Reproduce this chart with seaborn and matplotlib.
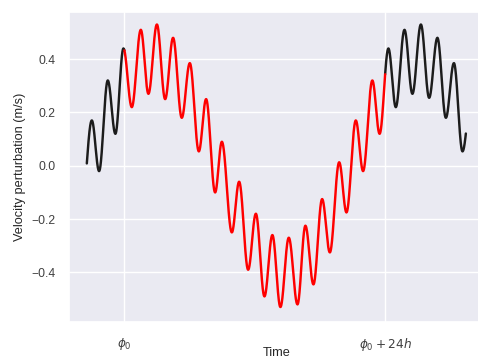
import numpy as np
import pandas as pd
import matplotlib
matplotlib.use("Agg")
import matplotlib.pyplot as plt
import seaborn as sns

# Extrema of the velocity curve (time in hours from phi0)
ext_time = [-3.96, -3.00, -2.33, -1.53, -0.83, -0.09, 0.68, 1.51, 2.21, 2.99,
            3.75, 4.48, 5.28, 6.02, 6.85, 7.52, 8.35, 8.97, 9.89, 10.56,
            11.39, 12.10, 12.89, 13.62, 14.36, 15.13, 15.93, 16.66, 17.40, 18.20,
            18.91, 19.77, 20.44, 21.30, 21.97, 22.82, 23.49, 24.30, 24.98, 25.78,
            26.51, 27.29, 28.05, 28.81, 29.59, 30.33, 31.12, 31.90]
ext_value = [-0.175, 0.17, -0.02, 0.32, 0.12, 0.44, 0.22, 0.51, 0.27, 0.53,
             0.25, 0.48, 0.18, 0.385, 0.054, 0.25, -0.10, 0.09, -0.25, -0.06,
             -0.39, -0.18, -0.49, -0.26, -0.53, -0.27, -0.52, -0.225, -0.445, -0.125,
             -0.325, 0.013, -0.175, 0.17, -0.02, 0.32, 0.12, 0.44, 0.22, 0.51,
             0.27, 0.53, 0.255, 0.48, 0.18, 0.385, 0.054, 0.25]
t_start, t_end = -3.46, 31.43
window = [0.0, 24.0]
tick_labels = [r"$\phi_0$", r"$\phi_0 + 24h$"]

et = np.array(ext_time)
ev = np.array(ext_value)


def curve(t):
    i = np.clip(np.searchsorted(et, t) - 1, 0, len(et) - 2)
    s = (t - et[i]) / (et[i + 1] - et[i])
    return ev[i] + (ev[i + 1] - ev[i]) * (1 - np.cos(np.pi * s)) / 2


tt = np.union1d(np.linspace(t_start, t_end, 4000), window)
df = pd.DataFrame({"t": tt, "v": curve(tt)})

sns.set_theme(style="darkgrid")
plt.rcParams["font.family"] = ["Liberation Sans", "DejaVu Sans"]

fig = plt.figure(figsize=(4.78, 3.61), dpi=100)
ax = fig.add_axes([69 / 478, 39.3 / 361, 415 / 478, 310 / 361])

pre = df[df.t <= window[0]]
win = df[(df.t >= window[0]) & (df.t <= window[1])]
post = df[df.t >= window[1]]
kw = dict(x="t", y="v", ax=ax, linewidth=1.75, estimator=None)
sns.lineplot(data=pre, color="#1c1c1c", **kw)
sns.lineplot(data=post, color="#1c1c1c", **kw)
sns.lineplot(data=win, color="red", **kw)

ax.set_xlim(-5.1, 33.1)
ax.set_ylim(-0.585, 0.578)
ax.set_xticks(window)
ax.set_xticklabels(tick_labels)
ax.set_yticks([-0.4, -0.2, 0.0, 0.2, 0.4])
ax.tick_params(labelsize=8.7, colors="#404040")
ax.tick_params(axis="x", pad=4)
ax.set_xlabel("Time", fontsize=9.2, color="#262626")
ax.xaxis.set_label_coords(0.5, -0.083)
ax.set_ylabel("Velocity perturbation (m/s)", fontsize=9.2, color="#262626")

fig.savefig("out.png", dpi=100)
